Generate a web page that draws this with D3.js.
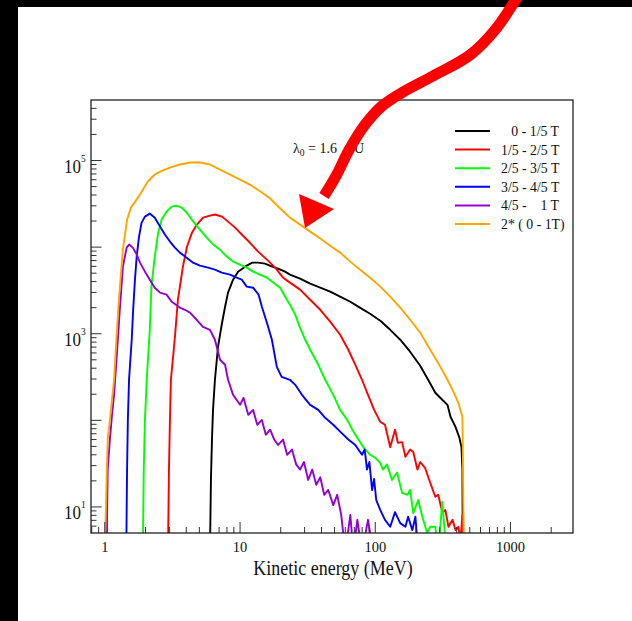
<!DOCTYPE html>
<html><head><meta charset="utf-8">
<script src="https://cdn.jsdelivr.net/npm/d3@7"></script>
<style>
body{margin:0;background:#fff}
svg text{font-family:"Liberation Serif","Times New Roman",serif;fill:#111}
</style>
</head><body>
<svg id="c" width="632" height="621"></svg>
<script>
// ---------- data: [kinetic energy (MeV), counts] ----------
const seriesLabels = ["   0 - 1/5 T", "1/5 - 2/5 T", "2/5 - 3/5 T", "3/5 - 4/5 T", "4/5 -    1 T", "2* ( 0 - 1T)"];
const seriesColors = ["#000000", "#ff0000", "#00ff00", "#0000ff", "#9400d3", "#ffa500"];

const black = [[5.99,3],[6.09,20.5],[6.20,60],[6.31,132],[6.52,294],[6.87,707],[7.36,1340],[7.75,2050],[8.15,2980],[8.88,4210],[9.67,5210],[10.9,5950],[12.3,6620],[13.6,6620],[15.3,6450],[17.3,5950],[19.1,5640],[21.5,5210],[23.4,4810],[27.8,4320],[33.0,3790],[39.2,3400],[46.4,3060],[55.0,2680],[65.4,2340],[76.9,2000],[91.5,1700],[109,1410],[129,1110],[153,853],[181,620],[215,427],[246,294],[278,208],[313,173],[342,151],[360,110],[392,84],[419,63],[434,49],[441,27],[444,3]];

const red = [[2.93,3],[2.98,27],[3.03,101],[3.08,294],[3.30,923],[3.47,2470],[3.78,5950],[4.05,10100],[4.41,14700],[4.80,18200],[5.32,21900],[5.99,23100],[6.52,23800],[7.36,22500],[8.15,19700],[9.19,16800],[10.3,14000],[11.8,11300],[13.6,8870],[15.8,7170],[18.2,5800],[20.8,4440],[23.4,3890],[27.8,3230],[33.0,2470],[39.2,1890],[46.4,1380],[55.0,973],[63.2,653],[71.2,438],[79.8,294],[88.4,197],[98.1,132],[109,96],[118,89],[129,49],[140,78],[147,55],[158,56],[167,38],[181,46],[191,43],[205,27],[215,33],[234,28],[255,19],[278,13.1],[292,13.8],[313,8.7],[330,9.2],[348,5.9],[373,7.1],[392,5.4],[412,5.9],[427,4],[441,8.1],[456,3]];

const green = [[1.91,3],[1.94,27],[1.98,101],[2.04,294],[2.15,1110],[2.21,3500],[2.34,7770],[2.48,14700],[2.63,20800],[2.86,25700],[3.12,29400],[3.36,30200],[3.70,28600],[4.03,25100],[4.51,19700],[5.05,15900],[5.66,12900],[6.33,10700],[7.11,9350],[7.98,7770],[8.92,6800],[10.0,6280],[11.2,5800],[12.5,5210],[14.0,4810],[15.8,4440],[17.7,3890],[19.8,3400],[22.2,2470],[23.4,2160],[25.6,1660],[27.8,1170],[30.3,853],[33.0,653],[37.9,438],[42.6,294],[48.9,197],[55.0,132],[62.1,101],[67.7,78],[75.0,60],[82.5,48],[91.5,40],[100,37],[109,32],[114,27],[122,31],[133,20.5],[145,25],[158,14.5],[173,13.8],[181,15.7],[191,8.5],[208,12],[223,7.7],[242,5.0],[255,5.9],[278,5.9],[292,3],[313,11.4],[318,8.5],[336,3]];

const blue = [[1.44,3],[1.46,27],[1.48,101],[1.51,294],[1.58,853],[1.62,1890],[1.67,4210],[1.72,7770],[1.79,13200],[1.87,19200],[1.98,22500],[2.15,24400],[2.34,21900],[2.56,17300],[2.78,14000],[3.03,11600],[3.30,9870],[3.59,8640],[4.03,7560],[4.49,6620],[5.05,6110],[5.80,5800],[6.52,5500],[7.32,5070],[8.43,4810],[9.44,4440],[10.3,4210],[11.2,3500],[12.5,3400],[13.7,2830],[14.5,2050],[15.8,1340],[17.2,853],[18.7,415],[20.3,318],[23.4,294],[25.6,257],[28.7,197],[33.0,151],[37.9,132],[42.6,107],[48.9,89],[55.0,74],[63.2,60],[71.2,52],[79.8,40],[83.5,46],[86.9,27],[90.5,33],[94.7,15.7],[98,21],[101.7,12],[109,9.2],[118,7.1],[129,5.9],[140,8.7],[153,6.5],[167,5.9],[175,7.7],[188,5.4],[198,7.7],[208,3]];

const purple = [[1.035,3],[1.04,9.2],[1.05,27],[1.09,60],[1.13,116],[1.17,197],[1.22,500],[1.29,1890],[1.36,5950],[1.45,9870],[1.51,10700],[1.61,9870],[1.72,8190],[1.82,6620],[1.98,5210],[2.15,4210],[2.34,3400],[2.56,2980],[2.86,2830],[3.12,2340],[3.36,2160],[3.59,2000],[3.91,1890],[4.26,1750],[4.78,1450],[5.32,1200],[5.99,1110],[6.52,853],[7.11,500],[7.75,438],[8.15,294],[8.88,197],[10.0,151],[10.6,182],[11.5,116],[12.5,132],[13.4,89],[14.5,101],[15.5,68],[16.7,78],[17.9,60],[19.1,52],[20.8,60],[22.3,40],[24.2,46],[26.0,31],[27.8,27],[29.7,33],[31.9,20.5],[34.2,27],[36.6,18],[39.2,22],[41.9,13.8],[44.9,15.7],[48.9,10.5],[52.3,13.8],[56.0,8.1],[60.0,3],[65.4,8.1],[68.8,3],[73.7,7.1],[79.8,3],[88.4,7.1],[96.4,3]];

const total = [[1.0,3],[1.02,10.5],[1.035,27],[1.05,60],[1.09,101],[1.13,173],[1.17,294],[1.21,746],[1.27,2470],[1.36,9350],[1.46,20800],[1.56,28600],[1.82,40500],[2.08,57200],[2.34,68900],[2.56,74600],[3.03,83000],[3.59,90000],[4.26,94800],[5.05,94800],[5.99,90000],[7.11,78700],[8.43,68900],[10.0,60300],[11.8,52800],[14.0,44400],[16.7,36400],[19.8,27900],[23.4,21900],[27.8,18200],[33.0,15100],[39.2,12600],[46.4,10400],[55.0,8640],[65.4,6800],[76.9,5500],[91.5,4440],[109,3500],[129,2680],[153,2000],[181,1450],[215,1030],[255,653],[303,415],[342,294],[373,225],[412,159],[441,110],[444,49],[448,11.1],[452,3]];

const seriesData = [black, red, green, blue, purple, total];

const xTickValues = [1, 10, 100, 1000];
const xTickLabels = ["1", "10", "100", "1000"];
const yMajorValues = [10, 100, 1000, 10000, 100000];
const yLabelValues = [10, 1000, 100000];
const yLabelExponents = ["1", "3", "5"];
const annotation = ["\u03bb", "0", " = 1.6  AU"];
const xTitle = "Kinetic energy (MeV)";

// ---------- drawing ----------
(function () {
const svg = d3.select("#c");
const W = 632, H = 621;
const pL = 91, pR = 573, pT = 100, pB = 533;

svg.append("rect").attr("width", W).attr("height", H).attr("fill", "#fff");

const x = d3.scaleLog().domain([0.79, 2900]).range([pL, pR]);
const y = d3.scaleLog().domain([5, 5e5]).range([pB, pT]);

svg.append("clipPath").attr("id", "plotclip")
  .append("rect").attr("x", pL).attr("y", pT).attr("width", pR - pL).attr("height", pB - pT);

const line = d3.line().x(d => x(d[0])).y(d => y(d[1]));
const g = svg.append("g").attr("clip-path", "url(#plotclip)");
seriesData.forEach((s, i) => {
  g.append("path").datum(s).attr("d", line)
    .attr("fill", "none").attr("stroke", seriesColors[i])
    .attr("stroke-width", 1.9).attr("stroke-linejoin", "round");
});

// ticks
const tickColor = "#333";
const xMinor = x.ticks(40).filter(v => v > x.domain()[0] && v < x.domain()[1]);
xMinor.forEach(v => {
  const major = xTickValues.includes(v);
  svg.append("line").attr("x1", x(v)).attr("x2", x(v))
    .attr("y1", pB).attr("y2", pB - (major ? 11 : 6))
    .attr("stroke", tickColor).attr("stroke-width", 1);
});
const yMinor = y.ticks(50).filter(v => v > y.domain()[0] && v < y.domain()[1]);
yMinor.forEach(v => {
  const major = yMajorValues.includes(v);
  svg.append("line").attr("x1", pL).attr("x2", pL + (major ? 10.5 : 5.5))
    .attr("y1", y(v)).attr("y2", y(v))
    .attr("stroke", tickColor).attr("stroke-width", 1);
});

// tick labels
xTickValues.forEach((v, i) => {
  svg.append("text").attr("x", x(v)).attr("y", 552)
    .attr("text-anchor", "middle").attr("font-size", 14.5).text(xTickLabels[i]);
});
yLabelValues.forEach((v, i) => {
  const yy = y(v);
  svg.append("text").attr("text-anchor", "end").attr("font-size", 17)
    .attr("transform", `translate(81,${yy + 12.5}) scale(1,1.15)`).text("10");
  svg.append("text").attr("text-anchor", "start").attr("font-size", 9.5)
    .attr("transform", `translate(81,${yy + 1.5}) scale(1,1.2)`).text(yLabelExponents[i]);
});

// axis title
svg.append("text").attr("text-anchor", "middle").attr("font-size", 18)
  .attr("transform", `translate(333,575) scale(1,1.12)`).text(xTitle);

// frame
svg.append("rect").attr("x", pL).attr("y", pT).attr("width", pR - pL).attr("height", pB - pT)
  .attr("fill", "none").attr("stroke", "#222").attr("stroke-width", 1.3);

// legend
seriesLabels.forEach((lab, i) => {
  const ly = 131 + i * 18.6;
  svg.append("line").attr("x1", 455).attr("x2", 490).attr("y1", ly).attr("y2", ly)
    .attr("stroke", seriesColors[i]).attr("stroke-width", 2);
  svg.append("text").style("white-space", "pre")
    .attr("font-size", 13.8)
    .attr("transform", `translate(501,${ly + 5}) scale(1,1.1)`).text(lab);
});

// lambda annotation
const ann = svg.append("text").attr("x", 293).attr("y", 153).attr("font-size", 14).style("white-space", "pre");
ann.append("tspan").text(annotation[0]);
ann.append("tspan").attr("font-size", 9.5).attr("dy", 3).text(annotation[1]);
ann.append("tspan").attr("dy", -3).text(annotation[2]);

// outer black bands
svg.append("rect").attr("x", 0).attr("y", 0).attr("width", W).attr("height", 7).attr("fill", "#000");
svg.append("rect").attr("x", 0).attr("y", 0).attr("width", 18).attr("height", H).attr("fill", "#000");

// red arrow (annotation)
const arrowShaft = [[518,-4],[495,30],[470,55],[433,76],[403,92],[382,106],[364,126],[349,150],[336,176],[324,196]];
svg.append("path")
  .attr("d", d3.line().curve(d3.curveCatmullRom)(arrowShaft))
  .attr("fill", "none").attr("stroke", "#ff0000").attr("stroke-width", 11);
svg.append("polygon").attr("points", [[299,194],[334,209],[305,228]].map(p => p.join(",")).join(" "))
  .attr("fill", "#ff0000");
})();
</script>
</body></html>
